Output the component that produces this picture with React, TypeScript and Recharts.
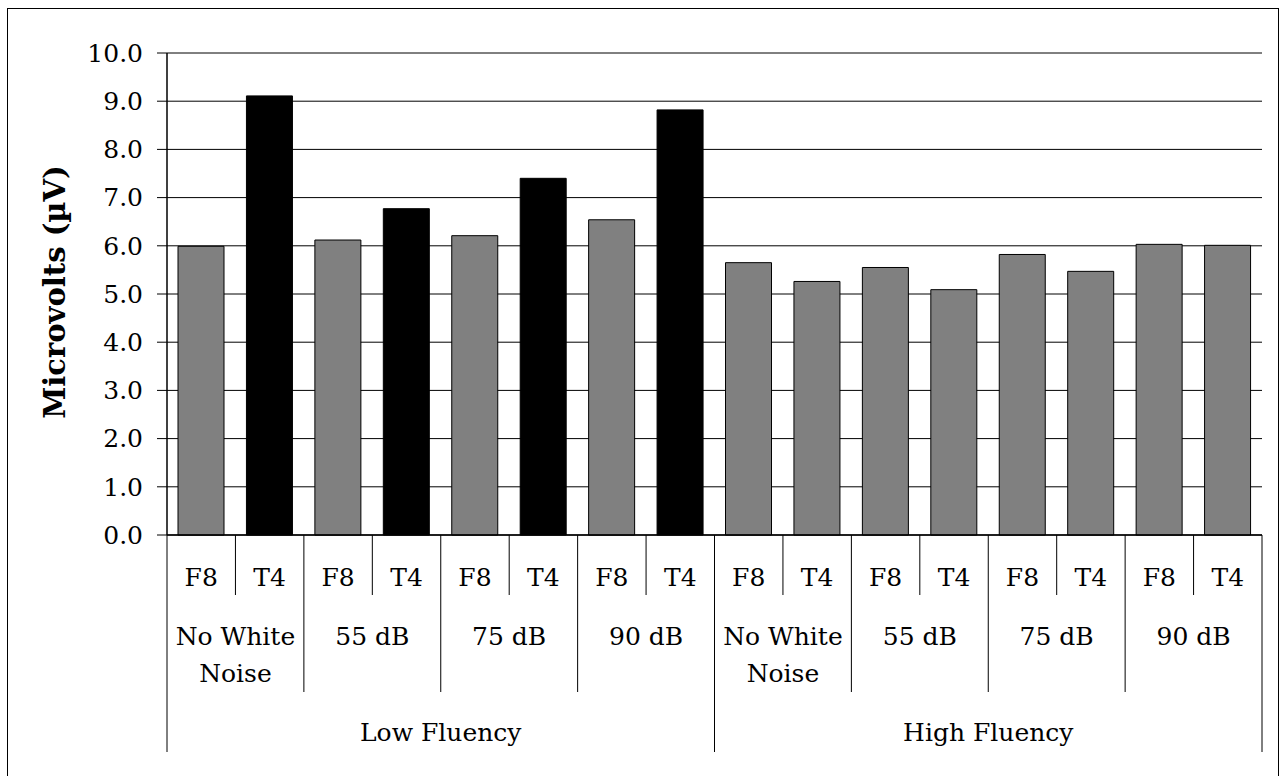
import React from 'react';
import { BarChart, Bar, XAxis, YAxis, CartesianGrid, Cell } from 'recharts';

// Electrode sites, noise conditions and fluency groups (category hierarchy)
const electrodes = ['F8', 'T4'];
const noiseLevels: string[][] = [['No White', 'Noise'], ['55 dB'], ['75 dB'], ['90 dB']];
const fluencyGroups = ['Low Fluency', 'High Fluency'];

// Mean amplitude in microvolts, ordered noise level -> electrode
const lowFluencyValues = [5.99, 9.11, 6.12, 6.77, 6.21, 7.4, 6.54, 8.82];
const highFluencyValues = [5.65, 5.26, 5.55, 5.09, 5.82, 5.47, 6.03, 6.01];

const yTicks = [0, 1, 2, 3, 4, 5, 6, 7, 8, 9, 10];

const GRAY = '#808080';
const BLACK = '#000000';
const FONT = 'DejaVu Serif';
const FS = 25;

type Row = {
  key: string;
  electrode: string;
  noise: number;
  fluency: number;
  value: number;
  fill: string;
};

const data: Row[] = [];
[lowFluencyValues, highFluencyValues].forEach((vals, f) => {
  vals.forEach((v, i) => {
    const electrode = electrodes[i % 2];
    data.push({
      key: `${f}-${i}`,
      electrode,
      noise: Math.floor(i / 2),
      fluency: f,
      value: v,
      fill: f === 0 && electrode === 'T4' ? BLACK : GRAY,
    });
  });
});

const WIDTH = 1281;
const HEIGHT = 776;
const MARGIN = { top: 53, right: 19, bottom: 0, left: 0 };
const Y_AXIS_WIDTH = 167;
const BAND = (WIDTH - MARGIN.left - MARGIN.right - Y_AXIS_WIDTH) / data.length;

// Three-level category labels under the axis, with divider lines
const CategoryTick = (props: any) => {
  const { x, y, index } = props;
  const band = props.payload && props.payload.offset ? props.payload.offset * 2 : BAND;
  const row = data[index];
  if (!row) return null;
  const half = band / 2;
  const t = { fontFamily: FONT, fontSize: FS, fill: '#000' };
  const items: React.ReactNode[] = [];

  items.push(
    <text key="e" x={x} y={y + 51} textAnchor="middle" {...t}>
      {row.electrode}
    </text>
  );

  if (index % 2 === 0) {
    // divider between the two electrodes of a noise group
    items.push(<line key="s" x1={x + half} x2={x + half} y1={y} y2={y + 60} stroke="#000" strokeWidth={1} />);
    // left edge of the noise group (deeper at fluency boundaries)
    const deep = index % 8 === 0;
    items.push(
      <line key="g" x1={x - half} x2={x - half} y1={y} y2={y + (deep ? 217 : 157)} stroke="#000" strokeWidth={1} />
    );
    noiseLevels[row.noise].forEach((ln, li) => {
      items.push(
        <text key={`n${li}`} x={x + half} y={y + 110 + li * 37} textAnchor="middle" {...t}>
          {ln}
        </text>
      );
    });
    if (index % 8 === 0) {
      items.push(
        <text key="f" x={x - half + band * 4} y={y + 206} textAnchor="middle" {...t}>
          {fluencyGroups[row.fluency]}
        </text>
      );
    }
  }
  if (index === data.length - 1) {
    items.push(<line key="r" x1={x + half} x2={x + half} y1={y} y2={y + 217} stroke="#000" strokeWidth={1} />);
  }
  return <g>{items}</g>;
};

const YTitle = () => (
  <text
    x={55}
    y={292}
    transform="rotate(-90 55 292)"
    textAnchor="middle"
    dominantBaseline="central"
    fontFamily={FONT}
    fontSize={29}
    fontWeight="bold"
    fill="#000"
  >
    Microvolts (µV)
  </text>
);

export default function App() {
  return (
    <div
      style={{
        position: 'absolute',
        left: 0,
        top: 0,
        width: WIDTH,
        height: HEIGHT,
        overflow: 'hidden',
        background: '#fff',
        fontFamily: FONT,
      }}
    >
      <div
        style={{
          position: 'absolute',
          left: 7,
          top: 8,
          width: 1272,
          height: 790,
          border: '1.5px solid #000',
          boxSizing: 'border-box',
        }}
      />
      <div style={{ position: 'absolute', left: 0, top: 0 }}>
        <BarChart width={WIDTH} height={HEIGHT} data={data} margin={MARGIN} barSize={46} style={{ fontFamily: FONT }}>
          <CartesianGrid horizontal vertical={false} stroke="#000" strokeWidth={1} />
          <XAxis
            dataKey="key"
            interval={0}
            height={241}
            tickSize={0}
            tickMargin={0}
            tickLine={false}
            axisLine={{ stroke: '#000', strokeWidth: 1.5 }}
            tick={<CategoryTick />}
          />
          <XAxis
            xAxisId="top"
            orientation="top"
            dataKey="key"
            height={0}
            tick={false}
            tickLine={false}
            axisLine={{ stroke: '#8c8c8c', strokeWidth: 2 }}
          />
          <YAxis
            domain={[0, 10]}
            ticks={yTicks}
            interval={0}
            width={Y_AXIS_WIDTH}
            tickSize={10}
            tickMargin={14}
            tickLine={{ stroke: '#000' }}
            axisLine={{ stroke: '#000', strokeWidth: 1.5 }}
            tickFormatter={(v: number) => v.toFixed(1)}
            tick={{ fontFamily: FONT, fontSize: FS, fill: '#000' }}
            label={{ content: <YTitle /> }}
          />
          <YAxis
            yAxisId="right"
            orientation="right"
            domain={[0, 10]}
            width={0}
            tick={false}
            tickLine={false}
            axisLine={{ stroke: '#8c8c8c', strokeWidth: 2 }}
          />
          <Bar dataKey="value" stroke="#000" strokeWidth={1} isAnimationActive={false}>
            {data.map((d) => (
              <Cell key={d.key} fill={d.fill} />
            ))}
          </Bar>
        </BarChart>
      </div>
    </div>
  );
}
